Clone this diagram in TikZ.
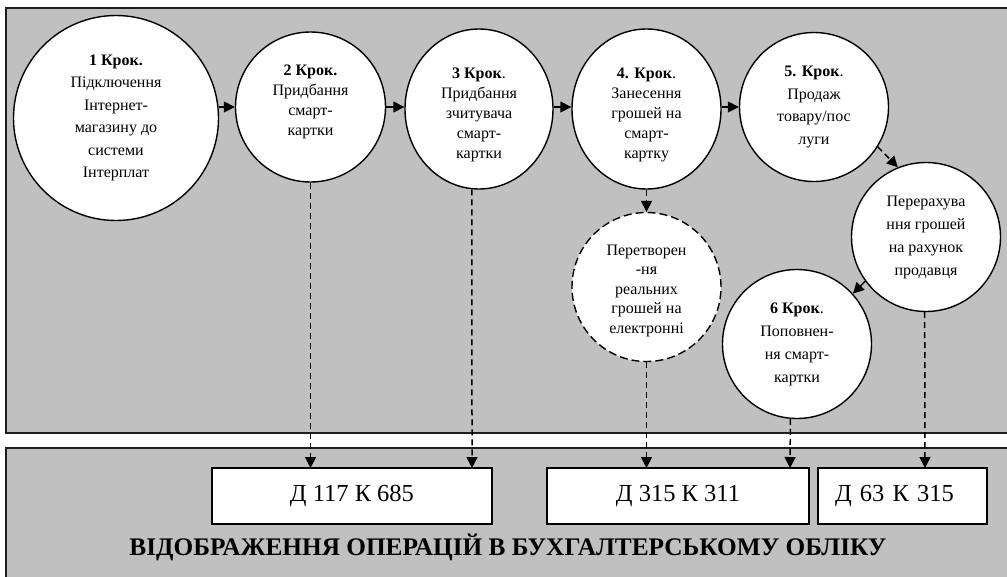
\documentclass[tikz,border=0pt]{standalone}
\usepackage{fontspec}
\setmainfont{Liberation Serif}
\usetikzlibrary{arrows.meta,shapes.geometric}
\definecolor{panelgray}{HTML}{C0C0C0}
\definecolor{edgedark}{HTML}{1E1E1E}
\begin{document}
\begin{tikzpicture}[x=1pt,y=-1pt,
  panel/.style={fill=panelgray, draw=edgedark, line width=2pt},
  stepc/.style={circle, draw=black, fill=white, line width=1.4pt, inner sep=0pt, align=center,
    font=\fontsize{16}{21}\selectfont},
  stepe/.style={ellipse, draw=black, fill=white, line width=1.4pt, inner sep=0pt, align=center,
    font=\fontsize{16}{20}\selectfont},
  arr/.style={line width=1.5pt, -{Triangle[length=11pt,width=11pt]}},
  darr/.style={arr, dash pattern=on 6pt off 4pt},
  acct/.style={draw=black, fill=white, line width=1.4pt, minimum height=56pt, inner sep=0pt,
    font=\fontsize{24.5}{28}\selectfont},
  titletext/.style={font=\fontsize{25.3}{28}\selectfont\bfseries}
]
\useasboundingbox (0,0) rectangle (1007,576);
\clip (0,0) rectangle (1007,576);
\fill[white] (0,0) rectangle (1007,576);
% panels
\draw[panel] (6,8) rectangle (1020,433);
\draw[panel] (6,448) rectangle (1020,590);

% circles
\node[stepc, minimum size=205pt, font=\fontsize{16}{22.5}\selectfont] (c1) at (116,118)
  {\textbf{1 Крок.}\\Підключення\\Інтернет-\\магазину до\\системи\\Інтерплат};
\node[stepc, minimum size=150pt, font=\fontsize{16}{20}\selectfont] (c2) at (310.5,107)
  {\textbf{2 Крок.}\\Придбання\\смарт-\\картки\rule[-13.5pt]{0pt}{1pt}};
\node[stepe, minimum width=148pt, minimum height=160pt] (c3) at (479,109)
  {\rule{0pt}{23pt}\textbf{3 Крок}.\\Придбання\\зчитувача\\смарт-\\картки};
\node[stepe, minimum width=149pt, minimum height=160pt] (c4) at (646.5,109)
  {\rule{0pt}{23pt}\textbf{4. Крок}.\\Занесення\\грошей на\\смарт-\\картку};
\node[stepc, minimum size=149pt, font=\fontsize{16}{22.5}\selectfont] (c5) at (814,107)
  {\textbf{5. Крок}.\\Продаж\\товару/пос\\луги};
\node[stepc, minimum size=149pt, font=\fontsize{16}{23}\selectfont] (cp) at (926,237)
  {Перерахува\\ння грошей\\на рахунок\\продавця};
\node[stepc, minimum size=149pt, font=\fontsize{16}{23}\selectfont] (c6) at (797,344)
  {\textbf{6 Крок}.\\Поповнен-\\ня смарт-\\картки};
\node[stepc, draw=none, minimum size=149pt, font=\fontsize{16}{19.5}\selectfont] (cd) at (646.5,287)
  {\rule{0pt}{17.5pt}Перетворен\\-ня\\реальних\\грошей на\\електронні};
\draw[line width=1.4pt, dash pattern=on 8pt off 4pt] (cd.center) circle[radius=74.5pt];

% accounting boxes
\node[acct, minimum width=280pt] (b1) at (352,496) {Д 117 К 685};
\node[acct, minimum width=262pt] (b2) at (678,496) {Д 315 К 311};
\node[acct, minimum width=169pt, text width=135pt, inner xsep=17pt, align=left] (b3) at (902.5,496) {Д 63 К 315};

\node[titletext] (title) at (508,547) {ВІДОБРАЖЕННЯ ОПЕРАЦІЙ В БУХГАЛТЕРСЬКОМУ ОБЛІКУ};

% horizontal flow
\draw[arr] (c1.east |- c2.west) -- (c2.west);
\draw[arr] (c2.east) -- (c2.east -| c3.west);
\draw[arr] (c3.east |- c2.east) -- (c2.east -| c4.west);
\draw[arr] (c4.east |- c2.east) -- (c5.west);
% side flow
\draw[darr] (c5.-32) -- (cp.112);
\draw[arr] (cp.216) -- (c6.42);
\draw[darr] (c4.south) -- (cd.north);

% down to accounts
\coordinate (t1) at (310.5,468);
\coordinate (t2) at (472,468);
\coordinate (t3) at (646.5,468);
\coordinate (t4) at (790,468);
\coordinate (t5) at (925,468);
\draw[darr] (c2.south) -- (t1);
\draw[darr] (c3.265) -- (t2);
\draw[darr] (cd.south) -- (t3);
\draw[darr] (c6.265.4) -- (t4);
\draw[darr] (cp.269) -- (t5);
\end{tikzpicture}
\end{document}
